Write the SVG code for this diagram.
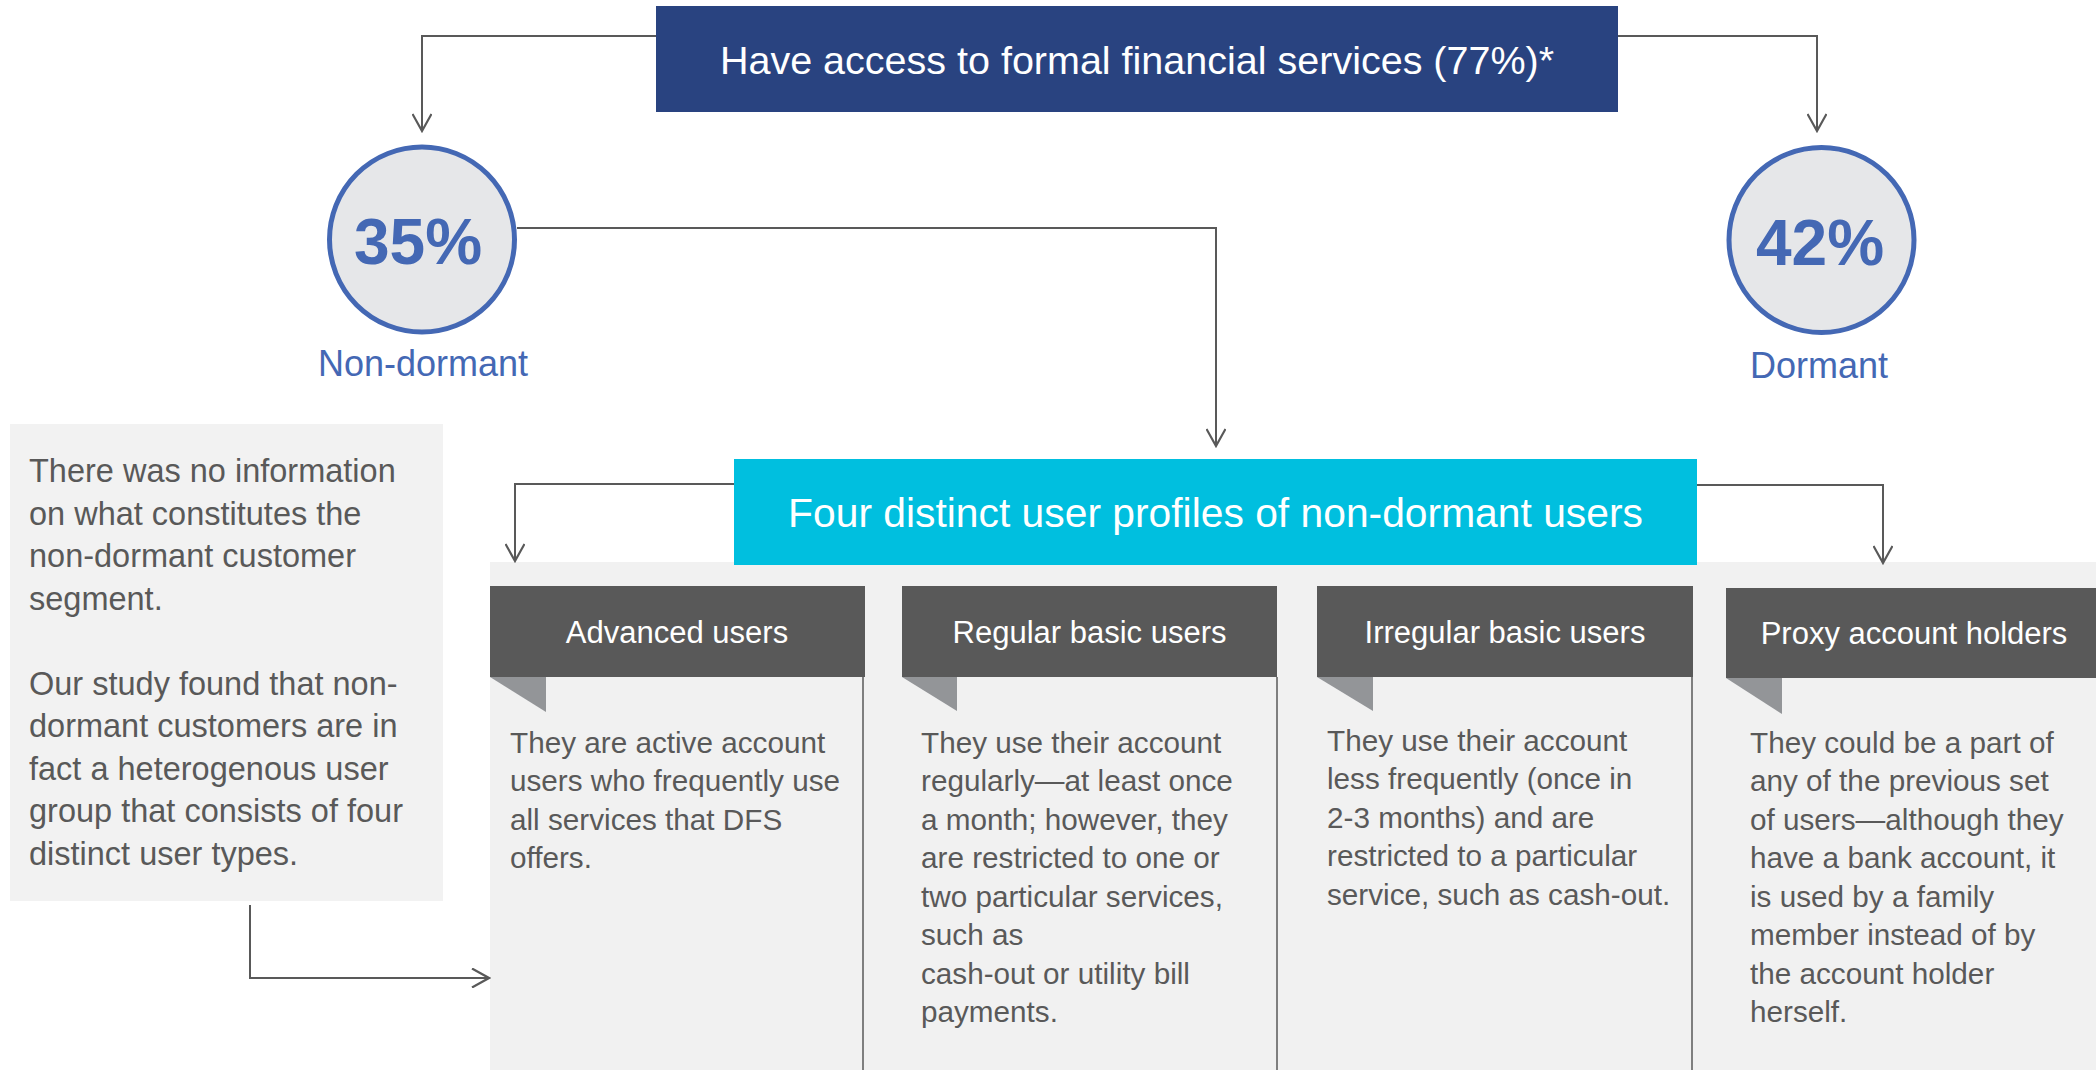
<svg xmlns="http://www.w3.org/2000/svg" width="2096" height="1070" viewBox="0 0 2096 1070">
<defs>
<marker id="arr" markerUnits="userSpaceOnUse" viewBox="0 0 20 20" markerWidth="20" markerHeight="20" refX="18" refY="10" orient="auto">
<path d="M1,0.5 L18,10 L1,19.5" fill="none" stroke="#595959" stroke-width="2.2"/>
</marker>
<style>
.t{font-family:"Liberation Sans",Arial,sans-serif}
.conn{fill:none;stroke:#595959;stroke-width:2}
.hdr{fill:#595959}
.tri{fill:#939598}
.hdrtxt{font-size:31px;fill:#ffffff;text-anchor:middle}
.body{font-size:29.7px;fill:#595959}
.note{font-size:32.5px;fill:#595959}
.circ{fill:#e6e7e9;stroke:#4468b4;stroke-width:5}
.pct{font-size:64px;font-weight:bold;fill:#4468b4;text-anchor:middle}
.lbl{font-size:36px;fill:#4468b4;text-anchor:middle}
.vline{stroke:#7f7f7f;stroke-width:2}
</style>
</defs>
<rect width="2096" height="1070" fill="#ffffff"/>

<g id="panel">
<rect x="490" y="562" width="1606" height="508" fill="#f1f1f1"/>
</g>

<g id="top-box">
<rect x="656" y="6" width="962" height="106" fill="#294380"/>
<text class="t" x="1137" y="74" font-size="39.5" fill="#ffffff" text-anchor="middle">Have access to formal financial services (77%)*</text>
</g>

<g id="non-dormant">
<circle class="circ" cx="422" cy="239.5" r="92.5"/>
<text class="t pct" x="418" y="264">35%</text>
<text class="t lbl" x="423" y="376">Non-dormant</text>
</g>

<g id="dormant">
<circle class="circ" cx="1821.5" cy="240" r="92.5"/>
<text class="t pct" x="1820" y="265">42%</text>
<text class="t lbl" x="1819" y="378">Dormant</text>
</g>

<g id="profiles-box">
<rect x="734" y="459" width="963" height="106" fill="#00bfdf"/>
<text class="t" x="1215.5" y="527" font-size="40.8" fill="#ffffff" text-anchor="middle">Four distinct user profiles of non-dormant users</text>
</g>

<g id="note">
<rect x="10" y="424" width="433" height="477" fill="#f2f2f2"/>
<text class="t note" x="29" y="482">There was no information</text>
<text class="t note" x="29" y="524.5">on what constitutes the</text>
<text class="t note" x="29" y="567">non-dormant customer</text>
<text class="t note" x="29" y="609.5">segment.</text>
<text class="t note" x="29" y="694.5">Our study found that non-</text>
<text class="t note" x="29" y="737">dormant customers are in</text>
<text class="t note" x="29" y="779.5">fact a heterogenous user</text>
<text class="t note" x="29" y="822">group that consists of four</text>
<text class="t note" x="29" y="864.5">distinct user types.</text>
</g>

<g id="card-advanced">
<rect class="hdr" x="490" y="586" width="375" height="91"/>
<polygon class="tri" points="490,677 546,677 546,712"/>
<line class="vline" x1="863" y1="677" x2="863" y2="1070"/>
<text class="t hdrtxt" x="677" y="643">Advanced users</text>
<text class="t body" x="510" y="752.5">They are active account</text>
<text class="t body" x="510" y="791">users who frequently use</text>
<text class="t body" x="510" y="829.5">all services that DFS</text>
<text class="t body" x="510" y="868">offers.</text>
</g>

<g id="card-regular">
<rect class="hdr" x="902" y="586" width="375" height="91"/>
<polygon class="tri" points="902,677 957,677 957,711"/>
<line class="vline" x1="1277" y1="677" x2="1277" y2="1070"/>
<text class="t hdrtxt" x="1089.5" y="643">Regular basic users</text>
<text class="t body" x="921" y="752.5">They use their account</text>
<text class="t body" x="921" y="791">regularly—at least once</text>
<text class="t body" x="921" y="829.5">a month; however, they</text>
<text class="t body" x="921" y="868">are restricted to one or</text>
<text class="t body" x="921" y="906.5">two particular services,</text>
<text class="t body" x="921" y="945">such as</text>
<text class="t body" x="921" y="983.5">cash-out or utility bill</text>
<text class="t body" x="921" y="1022">payments.</text>
</g>

<g id="card-irregular">
<rect class="hdr" x="1317" y="586" width="376" height="91"/>
<polygon class="tri" points="1317,677 1373,677 1373,711"/>
<line class="vline" x1="1692" y1="677" x2="1692" y2="1070"/>
<text class="t hdrtxt" x="1505" y="643">Irregular basic users</text>
<text class="t body" x="1327" y="750.5">They use their account</text>
<text class="t body" x="1327" y="789">less frequently (once in</text>
<text class="t body" x="1327" y="827.5">2-3 months) and are</text>
<text class="t body" x="1327" y="866">restricted to a particular</text>
<text class="t body" x="1327" y="904.5">service, such as cash-out.</text>
</g>

<g id="card-proxy">
<rect class="hdr" x="1726" y="588" width="370" height="90"/>
<polygon class="tri" points="1726,678 1782,678 1782,714"/>
<text class="t hdrtxt" x="1914" y="644">Proxy account holders</text>
<text class="t body" x="1750" y="752.5">They could be a part of</text>
<text class="t body" x="1750" y="791">any of the previous set</text>
<text class="t body" x="1750" y="829.5">of users—although they</text>
<text class="t body" x="1750" y="868">have a bank account, it</text>
<text class="t body" x="1750" y="906.5">is used by a family</text>
<text class="t body" x="1750" y="945">member instead of by</text>
<text class="t body" x="1750" y="983.5">the account holder</text>
<text class="t body" x="1750" y="1022">herself.</text>
</g>

<g id="connectors">
<path class="conn" d="M656,36 H422 V131" marker-end="url(#arr)"/>
<path class="conn" d="M1618,36 H1817 V131" marker-end="url(#arr)"/>
<path class="conn" d="M517,228 H1216 V446" marker-end="url(#arr)"/>
<path class="conn" d="M734,484 H515 V561" marker-end="url(#arr)"/>
<path class="conn" d="M1697,485 H1883 V563" marker-end="url(#arr)"/>
<path class="conn" d="M250,905 V978 H489" marker-end="url(#arr)"/>
</g>
</svg>
